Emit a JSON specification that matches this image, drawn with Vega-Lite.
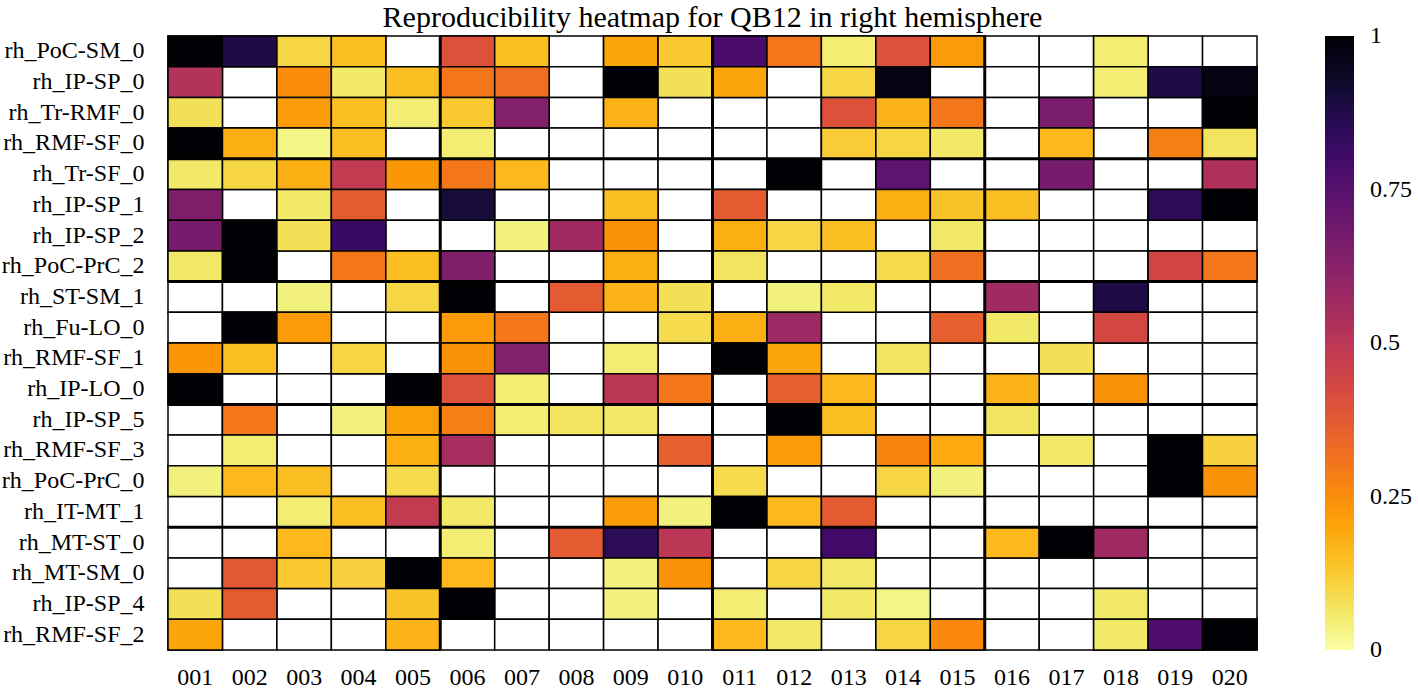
{
"$schema": "https://vega.github.io/schema/vega-lite/v6.json",
"width": 1089, "height": 614,
"autosize": {"type": "none"},
"padding": {"left": 168, "top": 36, "right": 161, "bottom": 40},
"background": "white",
"config": {"view": {"stroke": null}, "font": "Liberation Serif"},
"title": {"text": "Reproducibility heatmap for QB12 in right hemisphere", "font": "Liberation Serif", "fontSize": 30, "fontWeight": "normal", "color": "black", "anchor": "middle", "baseline": "alphabetic", "offset": -8, "dy": 14},
"datasets": {
"cells": [
{"r":"rh_PoC-SM_0","c":"001","v":1},{"r":"rh_PoC-SM_0","c":"002","v":0.88},{"r":"rh_PoC-SM_0","c":"003","v":0.1},{"r":"rh_PoC-SM_0","c":"004","v":0.15},{"r":"rh_PoC-SM_0","c":"005","v":null},{"r":"rh_PoC-SM_0","c":"006","v":0.4},{"r":"rh_PoC-SM_0","c":"007","v":0.15},{"r":"rh_PoC-SM_0","c":"008","v":null},{"r":"rh_PoC-SM_0","c":"009","v":0.2},{"r":"rh_PoC-SM_0","c":"010","v":0.13},{"r":"rh_PoC-SM_0","c":"011","v":0.78},{"r":"rh_PoC-SM_0","c":"012","v":0.3},{"r":"rh_PoC-SM_0","c":"013","v":0.05},{"r":"rh_PoC-SM_0","c":"014","v":0.4},{"r":"rh_PoC-SM_0","c":"015","v":0.22},{"r":"rh_PoC-SM_0","c":"016","v":null},{"r":"rh_PoC-SM_0","c":"017","v":null},{"r":"rh_PoC-SM_0","c":"018","v":0.05},{"r":"rh_PoC-SM_0","c":"019","v":null},{"r":"rh_PoC-SM_0","c":"020","v":null},
{"r":"rh_IP-SP_0","c":"001","v":0.52},{"r":"rh_IP-SP_0","c":"002","v":null},{"r":"rh_IP-SP_0","c":"003","v":0.25},{"r":"rh_IP-SP_0","c":"004","v":0.06},{"r":"rh_IP-SP_0","c":"005","v":0.15},{"r":"rh_IP-SP_0","c":"006","v":0.3},{"r":"rh_IP-SP_0","c":"007","v":0.32},{"r":"rh_IP-SP_0","c":"008","v":null},{"r":"rh_IP-SP_0","c":"009","v":1},{"r":"rh_IP-SP_0","c":"010","v":0.08},{"r":"rh_IP-SP_0","c":"011","v":0.2},{"r":"rh_IP-SP_0","c":"012","v":null},{"r":"rh_IP-SP_0","c":"013","v":0.1},{"r":"rh_IP-SP_0","c":"014","v":0.97},{"r":"rh_IP-SP_0","c":"015","v":null},{"r":"rh_IP-SP_0","c":"016","v":null},{"r":"rh_IP-SP_0","c":"017","v":null},{"r":"rh_IP-SP_0","c":"018","v":0.05},{"r":"rh_IP-SP_0","c":"019","v":0.88},{"r":"rh_IP-SP_0","c":"020","v":0.97},
{"r":"rh_Tr-RMF_0","c":"001","v":0.08},{"r":"rh_Tr-RMF_0","c":"002","v":null},{"r":"rh_Tr-RMF_0","c":"003","v":0.22},{"r":"rh_Tr-RMF_0","c":"004","v":0.15},{"r":"rh_Tr-RMF_0","c":"005","v":0.05},{"r":"rh_Tr-RMF_0","c":"006","v":0.13},{"r":"rh_Tr-RMF_0","c":"007","v":0.64},{"r":"rh_Tr-RMF_0","c":"008","v":null},{"r":"rh_Tr-RMF_0","c":"009","v":0.17},{"r":"rh_Tr-RMF_0","c":"010","v":null},{"r":"rh_Tr-RMF_0","c":"011","v":null},{"r":"rh_Tr-RMF_0","c":"012","v":null},{"r":"rh_Tr-RMF_0","c":"013","v":0.4},{"r":"rh_Tr-RMF_0","c":"014","v":0.17},{"r":"rh_Tr-RMF_0","c":"015","v":0.3},{"r":"rh_Tr-RMF_0","c":"016","v":null},{"r":"rh_Tr-RMF_0","c":"017","v":0.66},{"r":"rh_Tr-RMF_0","c":"018","v":null},{"r":"rh_Tr-RMF_0","c":"019","v":null},{"r":"rh_Tr-RMF_0","c":"020","v":1},
{"r":"rh_RMF-SF_0","c":"001","v":1},{"r":"rh_RMF-SF_0","c":"002","v":0.18},{"r":"rh_RMF-SF_0","c":"003","v":0.03},{"r":"rh_RMF-SF_0","c":"004","v":0.15},{"r":"rh_RMF-SF_0","c":"005","v":null},{"r":"rh_RMF-SF_0","c":"006","v":0.05},{"r":"rh_RMF-SF_0","c":"007","v":null},{"r":"rh_RMF-SF_0","c":"008","v":null},{"r":"rh_RMF-SF_0","c":"009","v":null},{"r":"rh_RMF-SF_0","c":"010","v":null},{"r":"rh_RMF-SF_0","c":"011","v":null},{"r":"rh_RMF-SF_0","c":"012","v":null},{"r":"rh_RMF-SF_0","c":"013","v":0.12},{"r":"rh_RMF-SF_0","c":"014","v":0.1},{"r":"rh_RMF-SF_0","c":"015","v":0.06},{"r":"rh_RMF-SF_0","c":"016","v":null},{"r":"rh_RMF-SF_0","c":"017","v":0.16},{"r":"rh_RMF-SF_0","c":"018","v":null},{"r":"rh_RMF-SF_0","c":"019","v":0.28},{"r":"rh_RMF-SF_0","c":"020","v":0.07},
{"r":"rh_Tr-SF_0","c":"001","v":0.06},{"r":"rh_Tr-SF_0","c":"002","v":0.1},{"r":"rh_Tr-SF_0","c":"003","v":0.18},{"r":"rh_Tr-SF_0","c":"004","v":0.48},{"r":"rh_Tr-SF_0","c":"005","v":0.23},{"r":"rh_Tr-SF_0","c":"006","v":0.3},{"r":"rh_Tr-SF_0","c":"007","v":0.16},{"r":"rh_Tr-SF_0","c":"008","v":null},{"r":"rh_Tr-SF_0","c":"009","v":null},{"r":"rh_Tr-SF_0","c":"010","v":null},{"r":"rh_Tr-SF_0","c":"011","v":null},{"r":"rh_Tr-SF_0","c":"012","v":1},{"r":"rh_Tr-SF_0","c":"013","v":null},{"r":"rh_Tr-SF_0","c":"014","v":0.73},{"r":"rh_Tr-SF_0","c":"015","v":null},{"r":"rh_Tr-SF_0","c":"016","v":null},{"r":"rh_Tr-SF_0","c":"017","v":0.67},{"r":"rh_Tr-SF_0","c":"018","v":null},{"r":"rh_Tr-SF_0","c":"019","v":null},{"r":"rh_Tr-SF_0","c":"020","v":0.53},
{"r":"rh_IP-SP_1","c":"001","v":0.65},{"r":"rh_IP-SP_1","c":"002","v":null},{"r":"rh_IP-SP_1","c":"003","v":0.06},{"r":"rh_IP-SP_1","c":"004","v":0.37},{"r":"rh_IP-SP_1","c":"005","v":null},{"r":"rh_IP-SP_1","c":"006","v":0.9},{"r":"rh_IP-SP_1","c":"007","v":null},{"r":"rh_IP-SP_1","c":"008","v":null},{"r":"rh_IP-SP_1","c":"009","v":0.15},{"r":"rh_IP-SP_1","c":"010","v":null},{"r":"rh_IP-SP_1","c":"011","v":0.37},{"r":"rh_IP-SP_1","c":"012","v":null},{"r":"rh_IP-SP_1","c":"013","v":null},{"r":"rh_IP-SP_1","c":"014","v":0.18},{"r":"rh_IP-SP_1","c":"015","v":0.14},{"r":"rh_IP-SP_1","c":"016","v":0.15},{"r":"rh_IP-SP_1","c":"017","v":null},{"r":"rh_IP-SP_1","c":"018","v":null},{"r":"rh_IP-SP_1","c":"019","v":0.85},{"r":"rh_IP-SP_1","c":"020","v":1},
{"r":"rh_IP-SP_2","c":"001","v":0.67},{"r":"rh_IP-SP_2","c":"002","v":1},{"r":"rh_IP-SP_2","c":"003","v":0.08},{"r":"rh_IP-SP_2","c":"004","v":0.82},{"r":"rh_IP-SP_2","c":"005","v":null},{"r":"rh_IP-SP_2","c":"006","v":null},{"r":"rh_IP-SP_2","c":"007","v":0.04},{"r":"rh_IP-SP_2","c":"008","v":0.57},{"r":"rh_IP-SP_2","c":"009","v":0.24},{"r":"rh_IP-SP_2","c":"010","v":null},{"r":"rh_IP-SP_2","c":"011","v":0.18},{"r":"rh_IP-SP_2","c":"012","v":0.1},{"r":"rh_IP-SP_2","c":"013","v":0.15},{"r":"rh_IP-SP_2","c":"014","v":null},{"r":"rh_IP-SP_2","c":"015","v":0.06},{"r":"rh_IP-SP_2","c":"016","v":null},{"r":"rh_IP-SP_2","c":"017","v":null},{"r":"rh_IP-SP_2","c":"018","v":null},{"r":"rh_IP-SP_2","c":"019","v":null},{"r":"rh_IP-SP_2","c":"020","v":null},
{"r":"rh_PoC-PrC_2","c":"001","v":0.06},{"r":"rh_PoC-PrC_2","c":"002","v":1},{"r":"rh_PoC-PrC_2","c":"003","v":null},{"r":"rh_PoC-PrC_2","c":"004","v":0.3},{"r":"rh_PoC-PrC_2","c":"005","v":0.15},{"r":"rh_PoC-PrC_2","c":"006","v":0.65},{"r":"rh_PoC-PrC_2","c":"007","v":null},{"r":"rh_PoC-PrC_2","c":"008","v":null},{"r":"rh_PoC-PrC_2","c":"009","v":0.18},{"r":"rh_PoC-PrC_2","c":"010","v":null},{"r":"rh_PoC-PrC_2","c":"011","v":0.07},{"r":"rh_PoC-PrC_2","c":"012","v":null},{"r":"rh_PoC-PrC_2","c":"013","v":null},{"r":"rh_PoC-PrC_2","c":"014","v":0.09},{"r":"rh_PoC-PrC_2","c":"015","v":0.32},{"r":"rh_PoC-PrC_2","c":"016","v":null},{"r":"rh_PoC-PrC_2","c":"017","v":null},{"r":"rh_PoC-PrC_2","c":"018","v":null},{"r":"rh_PoC-PrC_2","c":"019","v":0.44},{"r":"rh_PoC-PrC_2","c":"020","v":0.3},
{"r":"rh_ST-SM_1","c":"001","v":null},{"r":"rh_ST-SM_1","c":"002","v":null},{"r":"rh_ST-SM_1","c":"003","v":0.04},{"r":"rh_ST-SM_1","c":"004","v":null},{"r":"rh_ST-SM_1","c":"005","v":0.1},{"r":"rh_ST-SM_1","c":"006","v":1},{"r":"rh_ST-SM_1","c":"007","v":null},{"r":"rh_ST-SM_1","c":"008","v":0.37},{"r":"rh_ST-SM_1","c":"009","v":0.17},{"r":"rh_ST-SM_1","c":"010","v":0.08},{"r":"rh_ST-SM_1","c":"011","v":null},{"r":"rh_ST-SM_1","c":"012","v":0.04},{"r":"rh_ST-SM_1","c":"013","v":0.06},{"r":"rh_ST-SM_1","c":"014","v":null},{"r":"rh_ST-SM_1","c":"015","v":null},{"r":"rh_ST-SM_1","c":"016","v":0.57},{"r":"rh_ST-SM_1","c":"017","v":null},{"r":"rh_ST-SM_1","c":"018","v":0.88},{"r":"rh_ST-SM_1","c":"019","v":null},{"r":"rh_ST-SM_1","c":"020","v":null},
{"r":"rh_Fu-LO_0","c":"001","v":null},{"r":"rh_Fu-LO_0","c":"002","v":1},{"r":"rh_Fu-LO_0","c":"003","v":0.22},{"r":"rh_Fu-LO_0","c":"004","v":null},{"r":"rh_Fu-LO_0","c":"005","v":null},{"r":"rh_Fu-LO_0","c":"006","v":0.22},{"r":"rh_Fu-LO_0","c":"007","v":0.3},{"r":"rh_Fu-LO_0","c":"008","v":null},{"r":"rh_Fu-LO_0","c":"009","v":null},{"r":"rh_Fu-LO_0","c":"010","v":0.09},{"r":"rh_Fu-LO_0","c":"011","v":0.18},{"r":"rh_Fu-LO_0","c":"012","v":0.58},{"r":"rh_Fu-LO_0","c":"013","v":null},{"r":"rh_Fu-LO_0","c":"014","v":null},{"r":"rh_Fu-LO_0","c":"015","v":0.36},{"r":"rh_Fu-LO_0","c":"016","v":0.06},{"r":"rh_Fu-LO_0","c":"017","v":null},{"r":"rh_Fu-LO_0","c":"018","v":0.43},{"r":"rh_Fu-LO_0","c":"019","v":null},{"r":"rh_Fu-LO_0","c":"020","v":null},
{"r":"rh_RMF-SF_1","c":"001","v":0.23},{"r":"rh_RMF-SF_1","c":"002","v":0.15},{"r":"rh_RMF-SF_1","c":"003","v":null},{"r":"rh_RMF-SF_1","c":"004","v":0.1},{"r":"rh_RMF-SF_1","c":"005","v":null},{"r":"rh_RMF-SF_1","c":"006","v":0.24},{"r":"rh_RMF-SF_1","c":"007","v":0.64},{"r":"rh_RMF-SF_1","c":"008","v":null},{"r":"rh_RMF-SF_1","c":"009","v":0.05},{"r":"rh_RMF-SF_1","c":"010","v":null},{"r":"rh_RMF-SF_1","c":"011","v":1},{"r":"rh_RMF-SF_1","c":"012","v":0.2},{"r":"rh_RMF-SF_1","c":"013","v":null},{"r":"rh_RMF-SF_1","c":"014","v":0.07},{"r":"rh_RMF-SF_1","c":"015","v":null},{"r":"rh_RMF-SF_1","c":"016","v":null},{"r":"rh_RMF-SF_1","c":"017","v":0.08},{"r":"rh_RMF-SF_1","c":"018","v":null},{"r":"rh_RMF-SF_1","c":"019","v":null},{"r":"rh_RMF-SF_1","c":"020","v":null},
{"r":"rh_IP-LO_0","c":"001","v":1},{"r":"rh_IP-LO_0","c":"002","v":null},{"r":"rh_IP-LO_0","c":"003","v":null},{"r":"rh_IP-LO_0","c":"004","v":null},{"r":"rh_IP-LO_0","c":"005","v":1},{"r":"rh_IP-LO_0","c":"006","v":0.4},{"r":"rh_IP-LO_0","c":"007","v":0.05},{"r":"rh_IP-LO_0","c":"008","v":null},{"r":"rh_IP-LO_0","c":"009","v":0.5},{"r":"rh_IP-LO_0","c":"010","v":0.3},{"r":"rh_IP-LO_0","c":"011","v":null},{"r":"rh_IP-LO_0","c":"012","v":0.36},{"r":"rh_IP-LO_0","c":"013","v":0.16},{"r":"rh_IP-LO_0","c":"014","v":null},{"r":"rh_IP-LO_0","c":"015","v":null},{"r":"rh_IP-LO_0","c":"016","v":0.17},{"r":"rh_IP-LO_0","c":"017","v":null},{"r":"rh_IP-LO_0","c":"018","v":0.24},{"r":"rh_IP-LO_0","c":"019","v":null},{"r":"rh_IP-LO_0","c":"020","v":null},
{"r":"rh_IP-SP_5","c":"001","v":null},{"r":"rh_IP-SP_5","c":"002","v":0.3},{"r":"rh_IP-SP_5","c":"003","v":null},{"r":"rh_IP-SP_5","c":"004","v":0.04},{"r":"rh_IP-SP_5","c":"005","v":0.21},{"r":"rh_IP-SP_5","c":"006","v":0.28},{"r":"rh_IP-SP_5","c":"007","v":0.05},{"r":"rh_IP-SP_5","c":"008","v":0.07},{"r":"rh_IP-SP_5","c":"009","v":0.06},{"r":"rh_IP-SP_5","c":"010","v":null},{"r":"rh_IP-SP_5","c":"011","v":null},{"r":"rh_IP-SP_5","c":"012","v":1},{"r":"rh_IP-SP_5","c":"013","v":0.15},{"r":"rh_IP-SP_5","c":"014","v":null},{"r":"rh_IP-SP_5","c":"015","v":null},{"r":"rh_IP-SP_5","c":"016","v":0.07},{"r":"rh_IP-SP_5","c":"017","v":null},{"r":"rh_IP-SP_5","c":"018","v":null},{"r":"rh_IP-SP_5","c":"019","v":null},{"r":"rh_IP-SP_5","c":"020","v":null},
{"r":"rh_RMF-SF_3","c":"001","v":null},{"r":"rh_RMF-SF_3","c":"002","v":0.05},{"r":"rh_RMF-SF_3","c":"003","v":null},{"r":"rh_RMF-SF_3","c":"004","v":null},{"r":"rh_RMF-SF_3","c":"005","v":0.18},{"r":"rh_RMF-SF_3","c":"006","v":0.55},{"r":"rh_RMF-SF_3","c":"007","v":null},{"r":"rh_RMF-SF_3","c":"008","v":null},{"r":"rh_RMF-SF_3","c":"009","v":null},{"r":"rh_RMF-SF_3","c":"010","v":0.36},{"r":"rh_RMF-SF_3","c":"011","v":null},{"r":"rh_RMF-SF_3","c":"012","v":0.22},{"r":"rh_RMF-SF_3","c":"013","v":null},{"r":"rh_RMF-SF_3","c":"014","v":0.27},{"r":"rh_RMF-SF_3","c":"015","v":0.19},{"r":"rh_RMF-SF_3","c":"016","v":null},{"r":"rh_RMF-SF_3","c":"017","v":0.06},{"r":"rh_RMF-SF_3","c":"018","v":null},{"r":"rh_RMF-SF_3","c":"019","v":1},{"r":"rh_RMF-SF_3","c":"020","v":0.11},
{"r":"rh_PoC-PrC_0","c":"001","v":0.04},{"r":"rh_PoC-PrC_0","c":"002","v":0.16},{"r":"rh_PoC-PrC_0","c":"003","v":0.15},{"r":"rh_PoC-PrC_0","c":"004","v":null},{"r":"rh_PoC-PrC_0","c":"005","v":0.09},{"r":"rh_PoC-PrC_0","c":"006","v":null},{"r":"rh_PoC-PrC_0","c":"007","v":null},{"r":"rh_PoC-PrC_0","c":"008","v":null},{"r":"rh_PoC-PrC_0","c":"009","v":null},{"r":"rh_PoC-PrC_0","c":"010","v":null},{"r":"rh_PoC-PrC_0","c":"011","v":0.09},{"r":"rh_PoC-PrC_0","c":"012","v":null},{"r":"rh_PoC-PrC_0","c":"013","v":null},{"r":"rh_PoC-PrC_0","c":"014","v":0.1},{"r":"rh_PoC-PrC_0","c":"015","v":0.04},{"r":"rh_PoC-PrC_0","c":"016","v":null},{"r":"rh_PoC-PrC_0","c":"017","v":null},{"r":"rh_PoC-PrC_0","c":"018","v":null},{"r":"rh_PoC-PrC_0","c":"019","v":1},{"r":"rh_PoC-PrC_0","c":"020","v":0.24},
{"r":"rh_IT-MT_1","c":"001","v":null},{"r":"rh_IT-MT_1","c":"002","v":null},{"r":"rh_IT-MT_1","c":"003","v":0.05},{"r":"rh_IT-MT_1","c":"004","v":0.15},{"r":"rh_IT-MT_1","c":"005","v":0.48},{"r":"rh_IT-MT_1","c":"006","v":0.06},{"r":"rh_IT-MT_1","c":"007","v":null},{"r":"rh_IT-MT_1","c":"008","v":null},{"r":"rh_IT-MT_1","c":"009","v":0.22},{"r":"rh_IT-MT_1","c":"010","v":0.04},{"r":"rh_IT-MT_1","c":"011","v":1},{"r":"rh_IT-MT_1","c":"012","v":0.16},{"r":"rh_IT-MT_1","c":"013","v":0.37},{"r":"rh_IT-MT_1","c":"014","v":null},{"r":"rh_IT-MT_1","c":"015","v":null},{"r":"rh_IT-MT_1","c":"016","v":null},{"r":"rh_IT-MT_1","c":"017","v":null},{"r":"rh_IT-MT_1","c":"018","v":null},{"r":"rh_IT-MT_1","c":"019","v":null},{"r":"rh_IT-MT_1","c":"020","v":null},
{"r":"rh_MT-ST_0","c":"001","v":null},{"r":"rh_MT-ST_0","c":"002","v":null},{"r":"rh_MT-ST_0","c":"003","v":0.16},{"r":"rh_MT-ST_0","c":"004","v":null},{"r":"rh_MT-ST_0","c":"005","v":null},{"r":"rh_MT-ST_0","c":"006","v":0.05},{"r":"rh_MT-ST_0","c":"007","v":null},{"r":"rh_MT-ST_0","c":"008","v":0.37},{"r":"rh_MT-ST_0","c":"009","v":0.85},{"r":"rh_MT-ST_0","c":"010","v":0.5},{"r":"rh_MT-ST_0","c":"011","v":null},{"r":"rh_MT-ST_0","c":"012","v":null},{"r":"rh_MT-ST_0","c":"013","v":0.8},{"r":"rh_MT-ST_0","c":"014","v":null},{"r":"rh_MT-ST_0","c":"015","v":null},{"r":"rh_MT-ST_0","c":"016","v":0.16},{"r":"rh_MT-ST_0","c":"017","v":1},{"r":"rh_MT-ST_0","c":"018","v":0.57},{"r":"rh_MT-ST_0","c":"019","v":null},{"r":"rh_MT-ST_0","c":"020","v":null},
{"r":"rh_MT-SM_0","c":"001","v":null},{"r":"rh_MT-SM_0","c":"002","v":0.38},{"r":"rh_MT-SM_0","c":"003","v":0.13},{"r":"rh_MT-SM_0","c":"004","v":0.11},{"r":"rh_MT-SM_0","c":"005","v":1},{"r":"rh_MT-SM_0","c":"006","v":0.16},{"r":"rh_MT-SM_0","c":"007","v":null},{"r":"rh_MT-SM_0","c":"008","v":null},{"r":"rh_MT-SM_0","c":"009","v":0.04},{"r":"rh_MT-SM_0","c":"010","v":0.24},{"r":"rh_MT-SM_0","c":"011","v":null},{"r":"rh_MT-SM_0","c":"012","v":0.1},{"r":"rh_MT-SM_0","c":"013","v":0.06},{"r":"rh_MT-SM_0","c":"014","v":null},{"r":"rh_MT-SM_0","c":"015","v":null},{"r":"rh_MT-SM_0","c":"016","v":null},{"r":"rh_MT-SM_0","c":"017","v":null},{"r":"rh_MT-SM_0","c":"018","v":null},{"r":"rh_MT-SM_0","c":"019","v":null},{"r":"rh_MT-SM_0","c":"020","v":null},
{"r":"rh_IP-SP_4","c":"001","v":0.08},{"r":"rh_IP-SP_4","c":"002","v":0.37},{"r":"rh_IP-SP_4","c":"003","v":null},{"r":"rh_IP-SP_4","c":"004","v":null},{"r":"rh_IP-SP_4","c":"005","v":0.14},{"r":"rh_IP-SP_4","c":"006","v":1},{"r":"rh_IP-SP_4","c":"007","v":null},{"r":"rh_IP-SP_4","c":"008","v":null},{"r":"rh_IP-SP_4","c":"009","v":0.04},{"r":"rh_IP-SP_4","c":"010","v":null},{"r":"rh_IP-SP_4","c":"011","v":0.05},{"r":"rh_IP-SP_4","c":"012","v":null},{"r":"rh_IP-SP_4","c":"013","v":0.06},{"r":"rh_IP-SP_4","c":"014","v":0.03},{"r":"rh_IP-SP_4","c":"015","v":null},{"r":"rh_IP-SP_4","c":"016","v":null},{"r":"rh_IP-SP_4","c":"017","v":null},{"r":"rh_IP-SP_4","c":"018","v":0.06},{"r":"rh_IP-SP_4","c":"019","v":null},{"r":"rh_IP-SP_4","c":"020","v":null},
{"r":"rh_RMF-SF_2","c":"001","v":0.2},{"r":"rh_RMF-SF_2","c":"002","v":null},{"r":"rh_RMF-SF_2","c":"003","v":null},{"r":"rh_RMF-SF_2","c":"004","v":null},{"r":"rh_RMF-SF_2","c":"005","v":0.17},{"r":"rh_RMF-SF_2","c":"006","v":null},{"r":"rh_RMF-SF_2","c":"007","v":null},{"r":"rh_RMF-SF_2","c":"008","v":null},{"r":"rh_RMF-SF_2","c":"009","v":null},{"r":"rh_RMF-SF_2","c":"010","v":null},{"r":"rh_RMF-SF_2","c":"011","v":0.16},{"r":"rh_RMF-SF_2","c":"012","v":0.06},{"r":"rh_RMF-SF_2","c":"013","v":null},{"r":"rh_RMF-SF_2","c":"014","v":0.1},{"r":"rh_RMF-SF_2","c":"015","v":0.26},{"r":"rh_RMF-SF_2","c":"016","v":null},{"r":"rh_RMF-SF_2","c":"017","v":null},{"r":"rh_RMF-SF_2","c":"018","v":0.06},{"r":"rh_RMF-SF_2","c":"019","v":0.77},{"r":"rh_RMF-SF_2","c":"020","v":1}
],
"hlines": [{"r":"rh_Tr-SF_0"},{"r":"rh_ST-SM_1"},{"r":"rh_IP-SP_5"},{"r":"rh_MT-ST_0"}],
"vlines": [{"c":"006"},{"c":"011"},{"c":"016"}]
},
"encoding": {
  "x": {"field": "c", "type": "nominal", "title": null,
        "scale": {"domain": ["001","002","003","004","005","006","007","008","009","010","011","012","013","014","015","016","017","018","019","020"], "paddingInner": 0, "paddingOuter": 0},
        "axis": {"orient": "bottom", "labelAngle": 0, "ticks": false, "domain": false, "labelPadding": 39, "labelBaseline": "bottom", "labelFont": "Liberation Serif", "labelFontSize": 24, "labelColor": "black"}},
  "y": {"field": "r", "type": "nominal", "title": null,
        "scale": {"domain": ["rh_PoC-SM_0","rh_IP-SP_0","rh_Tr-RMF_0","rh_RMF-SF_0","rh_Tr-SF_0","rh_IP-SP_1","rh_IP-SP_2","rh_PoC-PrC_2","rh_ST-SM_1","rh_Fu-LO_0","rh_RMF-SF_1","rh_IP-LO_0","rh_IP-SP_5","rh_RMF-SF_3","rh_PoC-PrC_0","rh_IT-MT_1","rh_MT-ST_0","rh_MT-SM_0","rh_IP-SP_4","rh_RMF-SF_2"], "paddingInner": 0, "paddingOuter": 0},
        "axis": {"ticks": false, "domain": false, "labelPadding": 24, "labelFont": "Liberation Serif", "labelFontSize": 24, "labelColor": "black", "labelLimit": 300}}
},
"layer": [
  {"data": {"name": "cells"}, "mark": {"type": "rect", "fill": "white", "stroke": "black", "strokeWidth": 1.5}},
  {"data": {"name": "cells"}, "transform": [{"filter": "isValid(datum.v)"}],
   "mark": {"type": "rect", "stroke": "black", "strokeWidth": 1.5},
   "encoding": {"color": {"field": "v", "type": "quantitative",
      "scale": {"scheme": "inferno", "reverse": true, "domain": [0, 1]},
      "legend": {"orient": "none", "legendX": 1157, "legendY": 0, "direction": "vertical", "title": null,
                 "gradientLength": 614, "gradientThickness": 29, "gradientStrokeWidth": 0,
                 "values": [0, 0.25, 0.5, 0.75, 1], "labelExpr": "'' + datum.value",
                 "labelOverlap": false,
                 "labelFont": "Liberation Serif", "labelFontSize": 24, "labelColor": "black", "labelOffset": 16, "padding": 0,
                 "encode": {"labels": {"update": {"baseline": {"value": "middle"}}}}}}}},
  {"data": {"name": "hlines"}, "mark": {"type": "rule", "color": "black", "strokeWidth": 3},
   "encoding": {"x": null, "y": {"field": "r", "type": "nominal", "bandPosition": 0}}},
  {"data": {"name": "vlines"}, "mark": {"type": "rule", "color": "black", "strokeWidth": 3},
   "encoding": {"y": null, "x": {"field": "c", "type": "nominal", "bandPosition": 0}}}
]
}
